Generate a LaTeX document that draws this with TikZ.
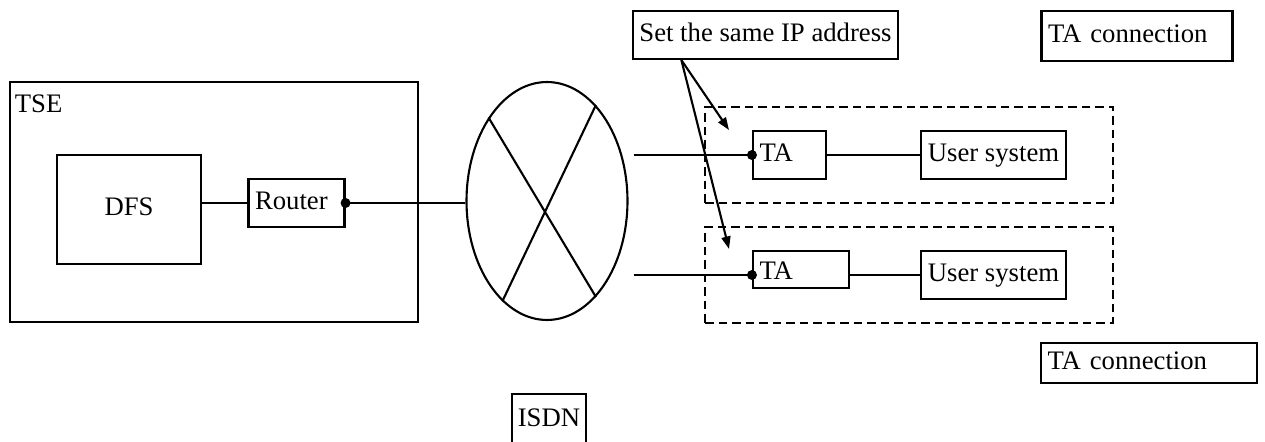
\documentclass[tikz,border=0pt]{standalone}
\usepackage{fontspec}
\setmainfont{Liberation Serif}
\usepackage{tikz}
\usetikzlibrary{arrows.meta, positioning, shapes.geometric, calc}

\begin{document}
\begin{tikzpicture}[
  x=0.02cm, y=-0.02cm,
  box/.style={rectangle, draw, line width=1.2pt, inner xsep=2pt, inner ysep=0pt, text height=0.35cm, text depth=0.09cm, font=\fontsize{15.2}{18}\selectfont},
  lbox/.style={box, align=left, inner xsep=0.13cm},
  zone/.style={rectangle, draw, line width=1.2pt, dash pattern=on 0.17cm off 0.1cm, minimum width=8.16cm, minimum height=1.92cm},
  line/.style={line width=1.2pt},
  arrow/.style={-{Triangle[length=0.25cm, width=0.18cm]}, line width=1.2pt}
]
 \useasboundingbox (0,0) rectangle (1265,442);
 \clip (0,0) rectangle (1265,442);

 % TSE side
 \node[box, minimum width=8.16cm, minimum height=4.8cm] (tse) at (214,202) {};
 \node[anchor=north west, inner sep=2pt, font=\fontsize{15.2}{18}\selectfont] (tsetext) at ([xshift=0.04cm, yshift=-0.2cm]tse.north west) {TSE};
 \node[box, minimum width=2.88cm, minimum height=2.18cm] (dfs) at (129,209.5) {DFS};
 \node[lbox, text width=1.66cm, minimum height=0.96cm] (router) at (296.5,203) {Router};
 \draw[line] (dfs.east |- router.west) -- (router.west);

 % ISDN network
 \node[ellipse, draw, line width=1.2pt, inner sep=0pt, minimum width=3.22cm, minimum height=4.76cm] (ell) at (547,201) {};
 \draw[line] (ell.125) -- (ell.-63);
 \draw[line] (ell.63) -- (ell.246);
 \draw[line] (router.east) -- (router.east -| ell.west);
 \fill (router.east) circle (0.1cm);
 \node[box, minimum width=1.48cm, text height=0.64cm, text depth=1.2cm, anchor=north] (isdn) at (549,393) {ISDN};

 % TA connections
 \node[zone] (zone1) at (909,155) {};
 \node[zone] (zone2) at (909,275) {};
 \node[lbox, text width=1.2cm, minimum height=0.96cm] (ta1) at (789.5,155) {TA};
 \node[lbox, text width=1.66cm, minimum height=0.74cm, text height=0.4cm, text depth=0cm] (ta2) at (801,269.5) {TA};
 \node[box, minimum width=2.9cm, minimum height=0.96cm] (usr1) at (993.5,155) {User system};
 \node[box, minimum width=2.9cm, minimum height=0.96cm] (usr2) at (993.5,275) {User system};
 \draw[line] ([xshift=0.1cm]ell.east |- ta1.west) -- (ta1.west);
 \draw[line] ([xshift=0.1cm]ell.east |- usr2.west) -- (ta2.west |- usr2.west);
 \fill (ta1.west) circle (0.1cm);
 \fill (ta2.west |- usr2.west) circle (0.1cm);
 \draw[line] (ta1.east) -- (usr1.west);
 \draw[line] (ta2.east |- usr2.west) -- (usr2.west);

 % notes
 \node[box, minimum width=5.3cm, minimum height=0.96cm] (same) at (765.5,35) {Set the same IP address};
 \node[lbox, text width=3.56cm, minimum height=1cm] (conn1) at (1137,36) {TA connection};
 \node[lbox, text width=4.06cm, minimum height=0.8cm] (conn2) at (1149,363) {TA connection};
 \coordinate (tip1) at (729,130);
 \coordinate (tip2) at (729,249);
 \draw[arrow] ($(same.south west)!0.185!(same.south east)$) -- (tip1);
 \draw[arrow] ($(same.south west)!0.185!(same.south east)$) -- (tip2);
\end{tikzpicture}
\end{document}
